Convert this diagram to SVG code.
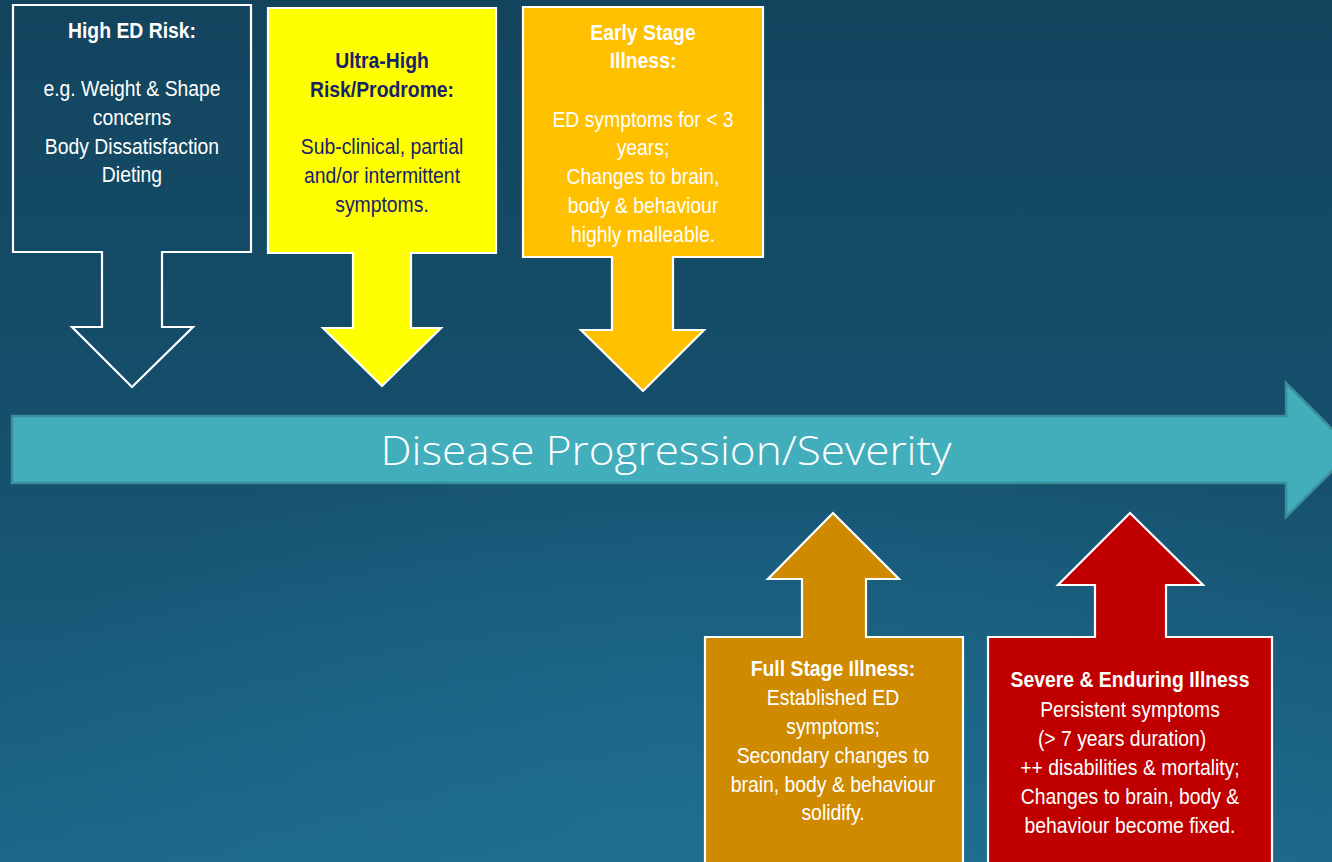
<svg xmlns="http://www.w3.org/2000/svg" width="1332" height="862" viewBox="0 0 1332 862">
  <defs>
    <linearGradient id="bg" x1="0" y1="0" x2="0" y2="1">
      <stop offset="0" stop-color="#13445E"/>
      <stop offset="0.5" stop-color="#154F6C"/>
      <stop offset="1" stop-color="#1C6788"/>
    </linearGradient>
    <radialGradient id="glow" cx="0.55" cy="1.05" r="0.6">
      <stop offset="0" stop-color="#21769A" stop-opacity="0.6"/>
      <stop offset="1" stop-color="#21769A" stop-opacity="0"/>
    </radialGradient>
  </defs>
  <style>
    .shape { stroke: #FFFFFF; stroke-width: 2.2; stroke-linejoin: miter; }
    .t { font-family: "Liberation Sans", Arial, sans-serif; font-size: 22px; text-anchor: middle; }
    .b { font-weight: bold; }
    .w { fill: #FFFFFF; }
    .n { fill: #18226A; }
    .big { font-family: "Open Sans", "Noto Sans", sans-serif; font-weight: 300; font-size: 40px; fill: #FFFFFF; text-anchor: middle; }
  </style>

  <rect x="0" y="0" width="1332" height="862" fill="url(#bg)"/>
  <rect x="0" y="0" width="1332" height="862" fill="url(#glow)"/>

  <g id="connectors">
    <g id="progression-arrow">
      <path d="M12,416 H1286 V383 L1353,450 L1286,517 V483 H12 Z" fill="#42AEBC" stroke="#3A8E98" stroke-width="2.5"/>
      <text class="big" x="666" y="465" textLength="571" lengthAdjust="spacingAndGlyphs">Disease Progression/Severity</text>
    </g>
  </g>

  <g id="high-ed-risk">
    <path class="shape" fill="none" d="M13,5 H251 V252 H162 V327 H193 L132,387 L72,327 H102 V252 H13 Z"/>
    <g transform="translate(132,0) scale(0.88,1)">
      <text class="t b w" x="0" y="38">High ED Risk:</text>
      <text class="t w" x="0" y="96">e.g. Weight &amp; Shape</text>
      <text class="t w" x="0" y="125">concerns</text>
      <text class="t w" x="0" y="154">Body Dissatisfaction</text>
      <text class="t w" x="0" y="182">Dieting</text>
    </g>
  </g>

  <g id="ultra-high-risk">
    <path class="shape" fill="#FFFF00" d="M268,8 H496 V253 H411 V328 H441 L382,386 L323,328 H353 V253 H268 Z"/>
    <g transform="translate(382,0) scale(0.88,1)">
      <text class="t b n" x="0" y="68">Ultra-High</text>
      <text class="t b n" x="0" y="97">Risk/Prodrome:</text>
      <text class="t n" x="0" y="154">Sub-clinical, partial</text>
      <text class="t n" x="0" y="183">and/or intermittent</text>
      <text class="t n" x="0" y="212">symptoms.</text>
    </g>
  </g>

  <g id="early-stage">
    <path class="shape" fill="#FFC000" d="M523,7 H763 V257 H673 V330 H704 L643,391 L581,330 H612 V257 H523 Z"/>
    <g transform="translate(643,0) scale(0.88,1)">
      <text class="t b w" x="0" y="40">Early Stage</text>
      <text class="t b w" x="0" y="68">Illness:</text>
      <text class="t w" x="0" y="127">ED symptoms for &lt; 3</text>
      <text class="t w" x="0" y="155">years;</text>
      <text class="t w" x="0" y="184">Changes to brain,</text>
      <text class="t w" x="0" y="213">body &amp; behaviour</text>
      <text class="t w" x="0" y="242">highly malleable.</text>
    </g>
  </g>

  <g id="full-stage">
    <path class="shape" fill="#CF8A00" d="M705,875 V637 H802 V579 H768 L833,513 L899,579 H866 V637 H963 V875 Z"/>
    <g transform="translate(833,0) scale(0.88,1)">
      <text class="t b w" x="0" y="676">Full Stage Illness:</text>
      <text class="t w" x="0" y="705">Established ED</text>
      <text class="t w" x="0" y="734">symptoms;</text>
      <text class="t w" x="0" y="763">Secondary changes to</text>
      <text class="t w" x="0" y="792">brain, body &amp; behaviour</text>
      <text class="t w" x="0" y="820">solidify.</text>
    </g>
  </g>

  <g id="severe-enduring">
    <path class="shape" fill="#C00000" d="M988,875 V637 H1095 V585 H1058 L1130,513 L1203,585 H1166 V637 H1272 V875 Z"/>
    <g transform="translate(1130,0) scale(0.88,1)">
      <text class="t b w" x="0" y="687">Severe &amp; Enduring Illness</text>
      <text class="t w" x="0" y="717">Persistent symptoms</text>
      <text class="t w" x="-9" y="746">(&gt; 7 years duration)</text>
      <text class="t w" x="0" y="775">++ disabilities &amp; mortality;</text>
      <text class="t w" x="0" y="804">Changes to brain, body &amp;</text>
      <text class="t w" x="0" y="833">behaviour become fixed.</text>
    </g>
  </g>
</svg>
